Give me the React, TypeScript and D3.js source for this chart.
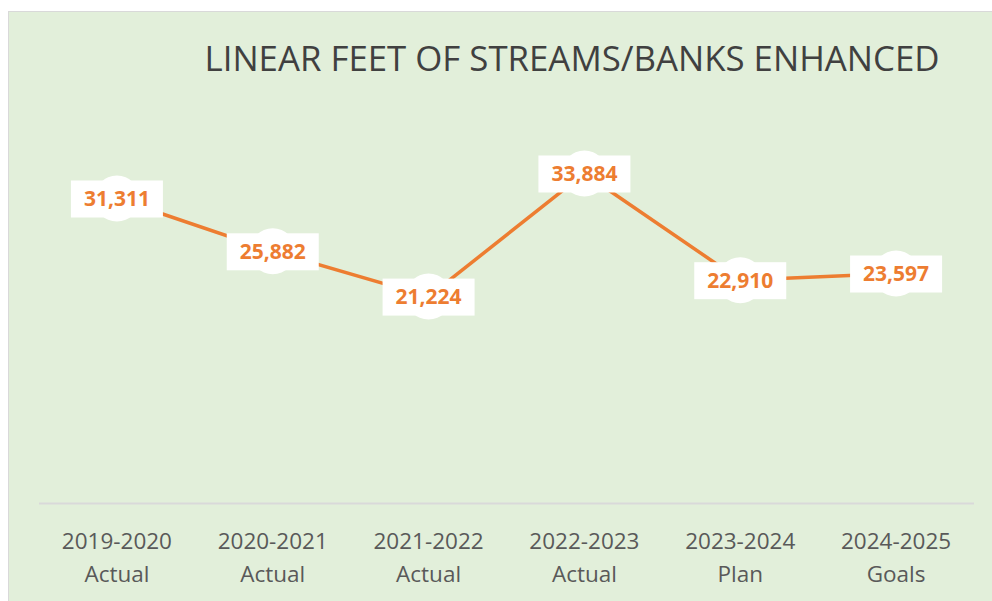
import React from "react";
import * as d3 from "d3";

const years = ["2019-2020", "2020-2021", "2021-2022", "2022-2023", "2023-2024", "2024-2025"];
const kinds = ["Actual", "Actual", "Actual", "Actual", "Plan", "Goals"];
const feet = [31311, 25882, 21224, 33884, 22910, 23597];

const W = 992;
const H = 601;
const FONT = "'Open Sans', 'Noto Sans', sans-serif";

export default function App() {
  const idx = years.map((_, i) => i);
  const x = d3.scaleBand<number>().domain(idx).range([39, 974]);
  const y = d3.scaleLinear().domain([0, 40000]).range([503, 114]);
  const cx = (i: number) => (x(i) as number) + x.bandwidth() / 2;

  const line = d3
    .line<number>()
    .x((d, i) => cx(i))
    .y((d) => y(d));

  const fmt = d3.format(",");

  return (
    <svg
      width={W}
      height={H}
      style={{ position: "absolute", left: 0, top: 0, fontFamily: FONT }}
    >
      <rect x={0} y={0} width={W} height={H} fill="#fff" />
      <rect x={8.5} y={11.5} width={W} height={H} fill="#E2EFDA" stroke="#D9D9D9" />

      <text
        x={572}
        y={71}
        textAnchor="middle"
        fontSize={34}
        fill="#404040"
        textLength={735}
        lengthAdjust="spacingAndGlyphs"
      >
        LINEAR FEET OF STREAMS/BANKS ENHANCED
      </text>

      <line x1={39} x2={974} y1={503.5} y2={503.5} stroke="#D9D9D9" strokeWidth={2} />

      {idx.map((i) => (
        <text key={i} textAnchor="middle" fontSize={22.5} fill="#595959">
          <tspan x={cx(i)} y={549}>{years[i]}</tspan>
          <tspan x={cx(i)} y={582}>{kinds[i]}</tspan>
        </text>
      ))}

      <path d={line(feet) || ""} fill="none" stroke="#ED7D31" strokeWidth={3.5} strokeLinejoin="round" />

      {feet.map((v, i) => (
        <g key={i} transform={`translate(${cx(i)},${y(v)})`}>
          <circle r={23} fill="#fff" />
          <rect x={-46} y={-18} width={92} height={37} fill="#fff" />
          <text
            textAnchor="middle"
            dy="0.36em"
            fontSize={21}
            fontWeight="bold"
            fill="#ED7D31"
          >
            {fmt(v)}
          </text>
        </g>
      ))}
    </svg>
  );
}
